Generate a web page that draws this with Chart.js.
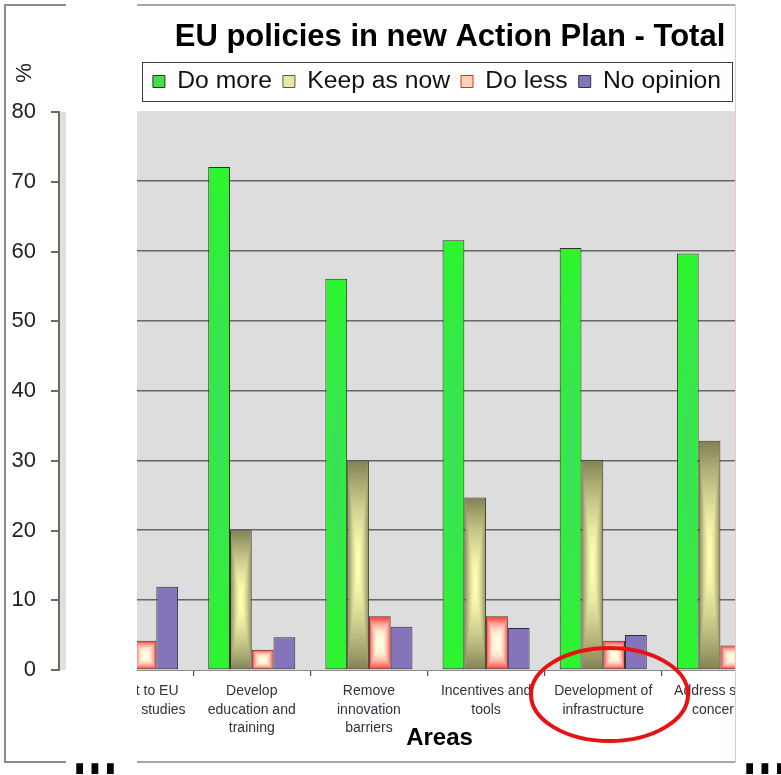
<!DOCTYPE html>
<html>
<head>
<meta charset="utf-8">
<script src="https://cdn.jsdelivr.net/npm/chart.js@4.4.1/dist/chart.umd.min.js"></script>
<style>
html, body { margin:0; padding:0; background:#fff; width:781px; height:775px; overflow:hidden; position:relative; font-family:"Liberation Sans", Arial, sans-serif; }
#leftCanvas { position:absolute; left:6px; top:0; width:60px; height:775px; }
#rightClip { position:absolute; left:137px; top:0; width:599px; height:775px; overflow:hidden; }
#rightCanvas { position:absolute; left:-61px; top:0; width:722px; height:775px; }
.ln { position:absolute; }
.dots { position:absolute; font:bold 48px "Liberation Sans", Arial, sans-serif; letter-spacing:2px; line-height:48px; color:#000; white-space:nowrap; transform:scaleY(1.5); transform-origin:0 33.6px; }
svg { position:absolute; left:0; top:0; pointer-events:none; }
</style>
</head>
<body>
<canvas id="leftCanvas" width="60" height="775"></canvas>
<div id="rightClip"><canvas id="rightCanvas" width="722" height="775"></canvas></div>

<!-- panel frames -->
<div class="ln" style="left:4px;top:4px;width:2px;height:759px;background:#8c8c8c"></div>
<div class="ln" style="left:4px;top:4px;width:62px;height:2px;background:#8c8c8c"></div>
<div class="ln" style="left:4px;top:761px;width:62px;height:2px;background:#8c8c8c"></div>
<div class="ln" style="left:137px;top:4px;width:599px;height:2px;background:#a6a6a6"></div>
<div class="ln" style="left:137px;top:761px;width:599px;height:2px;background:#a6a6a6"></div>
<div class="ln" style="left:735px;top:4px;width:1px;height:759px;background:#f2c4c4"></div>

<div class="dots" style="left:73px;top:731px">...</div>
<div class="dots" style="left:743px;top:731px">...</div>

<svg width="781" height="775"><ellipse cx="609.5" cy="694.5" rx="78.5" ry="46.5" fill="none" stroke="#e81212" stroke-width="4"/></svg>

<script>
// ---------------- data ----------------
const categories = [
  ["Support to EU", "foresight studies"],
  ["Develop", "education and", "training"],
  ["Remove", "innovation", "barriers"],
  ["Incentives and", "tools"],
  ["Development of", "infrastructure"],
  ["Address safety", "concerns"]
];
const seriesNames = ["Do more", "Keep as now", "Do less", "No opinion"];
const doMore    = [null, 72.0, 56.0, 61.5, 60.4, 59.6];
const keepAsNow = [null, 20.0, 30.0, 24.7, 30.1, 32.8];
const doLess    = [4.2, 2.9, 7.7, 7.7, 4.2, 3.5];
const noOpinion = [11.9, 4.7, 6.2, 6.0, 5.0, null];
const yMin = 0, yMax = 80, yStep = 10;
const chartTitle = "EU policies in new Action Plan - Total";
const xAxisTitle = "Areas";
const yAxisTitle = "%";

// ---------------- styling ----------------
const FONT = '"Liberation Sans", Arial, sans-serif';
Chart.defaults.font.family = FONT;
const CAT_PCT = 0.743;

function rectGradCanvas(w, h, c0, c1, pad, p) {
  const W = w + 2 * pad, H = h + 2 * pad;
  const cv = document.createElement('canvas');
  cv.width = W; cv.height = H;
  const g = cv.getContext('2d');
  const img = g.createImageData(W, H);
  const d = img.data;
  const hw = w / 2, hh = h / 2;
  for (let y = 0; y < H; y++) {
    for (let x = 0; x < W; x++) {
      const dx = Math.abs(x - pad + 0.5 - hw) / hw;
      const dy = Math.abs(y - pad + 0.5 - hh) / hh;
      const t = Math.pow(Math.min(1, Math.max(dx, dy)), p);
      const i = (y * W + x) * 4;
      d[i] = c0[0] + (c1[0] - c0[0]) * t;
      d[i + 1] = c0[1] + (c1[1] - c0[1]) * t;
      d[i + 2] = c0[2] + (c1[2] - c0[2]) * t;
      d[i + 3] = 255;
    }
  }
  g.putImageData(img, 0, 0);
  return cv;
}

function gradientFill(center, edge, solid, p) {
  return function (ctx) {
    if (ctx.type !== 'data') return solid;
    const chart = ctx.chart;
    const xs = chart.scales.x, ys = chart.scales.y;
    if (!chart.chartArea || !xs || !ys || !xs.width) return solid;
    const v = ctx.raw;
    if (v === null || v === undefined) return solid;
    const n = chart.data.labels.length;
    const nd = chart.data.datasets.length;
    const group = xs.width / n * CAT_PCT;
    const bw = group / nd;
    const left = xs.getPixelForValue(ctx.dataIndex) - group / 2 + ctx.datasetIndex * bw;
    const top = ys.getPixelForValue(v);
    const bottom = ys.getPixelForValue(0);
    const w = Math.max(2, bw), h = Math.max(2, bottom - top);
    const pad = 3;
    const cv = rectGradCanvas(Math.round(w), Math.round(h), center, edge, pad, p);
    const pat = chart.ctx.createPattern(cv, 'no-repeat');
    pat.setTransform(new DOMMatrix([1, 0, 0, 1, left - pad, top - pad]));
    return pat;
  };
}

const plotBg = {
  id: 'plotBg',
  beforeDraw(chart, args, opts) {
    const a = chart.chartArea, c = chart.ctx;
    c.save();
    c.fillStyle = opts.color || '#dddddd';
    c.fillRect(a.left, a.top, a.right - a.left, a.bottom - a.top);
    c.restore();
  }
};

const shiftPlugin = {
  id: 'shifts',
  afterLayout(chart) {
    const tb = chart.titleBlock;
    if (tb && !tb._shifted) {
      const d = tb.draw.bind(tb);
      tb.draw = function (area) { const c = this.ctx; c.save(); c.translate(13, 0); d(area); c.restore(); };
      tb._shifted = true;
    }
    const xs = chart.scales.x;
    if (xs && !xs._shifted) {
      const d2 = xs.drawTitle.bind(xs);
      xs.drawTitle = function () { const c = this.ctx; c.save(); c.translate(12, 0); d2(); c.restore(); };
      xs._shifted = true;
    }
  }
};

const legendGap = {
  id: 'legendGap',
  beforeLayout(chart) {
    const lg = chart.legend;
    if (lg && !lg._gap) {
      const f = lg.fit.bind(lg);
      lg.fit = function () { f(); this.height += 7.15; };
      lg._gap = true;
    }
  }
};

const legendBox = {
  id: 'legendBox',
  afterDraw(chart) {
    const lg = chart.legend;
    if (!lg || !lg.legendHitBoxes || !lg.legendHitBoxes.length) return;
    const hb = lg.legendHitBoxes;
    const L = Math.min(...hb.map(h => h.left)) - 10.5;
    const R = Math.max(...hb.map(h => h.left + h.width)) + 11.5;
    const cy = hb[0].top + hb[0].height / 2;
    const c = chart.ctx;
    c.save();
    c.strokeStyle = '#3a3a3a';
    c.lineWidth = 1;
    c.strokeRect(Math.round(L) + 0.5, Math.round(cy - 19.5) + 0.5, Math.round(R - L), 39);
    c.restore();
  }
};

const legendFill = ['#45e045', '#e8e8a4', '#ffd2bc', '#8574ba'];
const legendStroke = ['#2f2f2f', '#5a5a3a', '#e02a2a', '#333333'];

// ---------------- right (main) chart ----------------
new Chart(document.getElementById('rightCanvas'), {
  type: 'bar',
  data: {
    labels: categories,
    datasets: [
      { label: seriesNames[0], data: doMore,
        backgroundColor: gradientFill([62, 220, 98], [44, 246, 44], '#33ee33', 1),
        borderColor: '#2e2e2e' },
      { label: seriesNames[1], data: keepAsNow,
        backgroundColor: gradientFill([255, 255, 180], [128, 128, 82], '#cccc88', 1.6),
        borderColor: '#3a3a2a' },
      { label: seriesNames[2], data: doLess,
        backgroundColor: gradientFill([255, 255, 228], [255, 32, 32], '#ff8080', 2.6),
        borderColor: '#5a2626' },
      { label: seriesNames[3], data: noOpinion,
        backgroundColor: '#8574ba',
        borderColor: '#2e2e3a' }
    ]
  },
  options: {
    responsive: false,
    animation: false,
    events: [],
    datasets: {
      bar: { categoryPercentage: CAT_PCT, barPercentage: 1.0, borderWidth: 1, borderSkipped: false }
    },
    layout: { padding: { top: 0, left: 0, right: 0, bottom: 22.6 } },
    plugins: {
      plotBg: { color: '#dddddd' },
      tooltip: { enabled: false },
      title: {
        display: true, text: chartTitle, color: '#000',
        font: { size: 31, weight: 'bold', family: FONT, lineHeight: 1 },
        padding: { top: 21.5, bottom: 5.65 }
      },
      legend: {
        display: true, position: 'top', align: 'center',
        labels: {
          font: { size: 24.7, family: FONT }, color: '#111',
          boxWidth: 12, boxHeight: 12, padding: 11,
          generateLabels(chart) {
            return chart.data.datasets.map((ds, i) => ({
              text: ds.label, fillStyle: legendFill[i], strokeStyle: legendStroke[i],
              lineWidth: 1, hidden: false, datasetIndex: i, fontColor: '#111'
            }));
          }
        }
      }
    },
    scales: {
      x: {
        type: 'category', offset: true,
        grid: { offset: true, drawOnChartArea: false, drawTicks: true, tickLength: 6, color: '#505050', lineWidth: 1.2 },
        border: { display: true, color: '#8a8a8a', width: 1 },
        ticks: { font: { size: 14, family: FONT, lineHeight: 1.32 }, color: '#35303a', padding: 6,
                 maxRotation: 0, minRotation: 0, autoSkip: false },
        title: { display: true, text: xAxisTitle, color: '#000',
                 font: { size: 24, weight: 'bold', family: FONT, lineHeight: 1.2 },
                 padding: { top: 0, bottom: 0 } },
        afterFit(s) { s.height = 82.4; }
      },
      y: {
        position: 'right', min: yMin, max: yMax,
        ticks: { display: false, stepSize: yStep },
        border: { display: false },
        grid: {
          drawTicks: false, lineWidth: 1.6,
          color: (c) => (c.tick && (c.tick.value === yMin || c.tick.value === yMax)) ? 'rgba(0,0,0,0)' : '#666666'
        },
        afterFit(s) { s.width = 19; }
      }
    }
  },
  plugins: [plotBg, shiftPlugin, legendGap, legendBox]
});

// ---------------- left panel (value axis) ----------------
const percentLabel = {
  id: 'percentLabel',
  afterDraw(chart) {
    const c = chart.ctx;
    c.save();
    c.translate(19, 73);
    c.rotate(-Math.PI / 2);
    c.font = '22px ' + FONT;
    c.fillStyle = '#222';
    c.textAlign = 'center';
    c.textBaseline = 'middle';
    c.fillText(yAxisTitle, 0, 0);
    c.restore();
  }
};

new Chart(document.getElementById('leftCanvas'), {
  type: 'bar',
  data: { labels: [], datasets: [] },
  options: {
    responsive: false,
    animation: false,
    events: [],
    layout: { padding: { top: 112, bottom: 105, left: 0, right: 0 } },
    plugins: { legend: { display: false }, title: { display: false }, tooltip: { enabled: false }, plotBg: { color: '#e0e0e0' } },
    scales: {
      x: { display: false },
      y: {
        min: yMin, max: yMax,
        ticks: { stepSize: yStep, font: { size: 22, family: FONT }, color: '#222', padding: 15 },
        grid: { drawOnChartArea: false, drawTicks: true, tickLength: 8, color: '#6b6b5e', lineWidth: 2 },
        border: { display: true, color: '#6b6b5e', width: 2 },
        afterFit(s) { s.width = 53; }
      }
    }
  },
  plugins: [plotBg, percentLabel]
});
</script>
</body>
</html>
